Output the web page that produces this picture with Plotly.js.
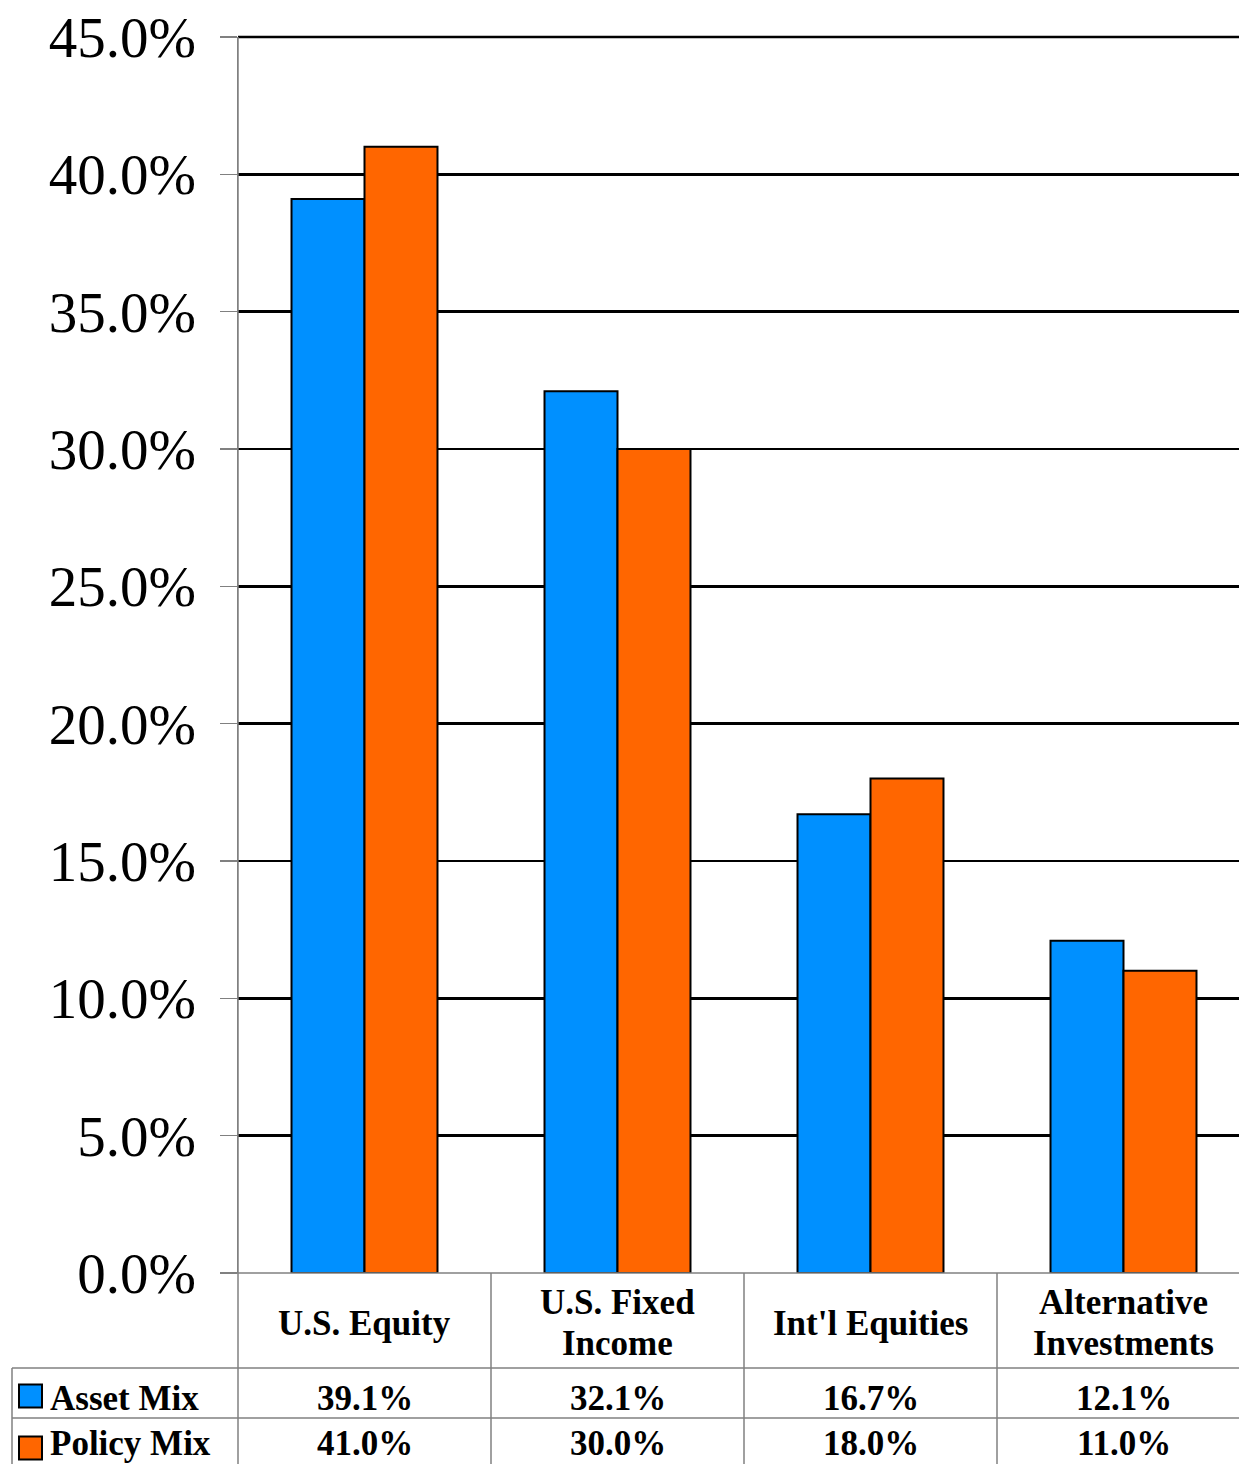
<!DOCTYPE html>
<html>
<head>
<meta charset="utf-8">
<script src="https://cdn.plot.ly/plotly-3.0.1.min.js"></script>
<style>html,body{margin:0;padding:0;background:#fff;overflow:hidden}</style>
</head>
<body>
<div id="chart"></div>
<script>
const categories = ["U.S. Equity", "U.S. Fixed<br>Income", "Int'l Equities", "Alternative<br>Investments"];
const seriesNames = ["Asset Mix", "Policy Mix"];
const assetMix = [39.1, 32.1, 16.7, 12.1];
const policyMix = [41.0, 30.0, 18.0, 11.0];
const seriesColors = ["#0090FF", "#FF6600"];
const yTickVals = [0, 5, 10, 15, 20, 25, 30, 35, 40, 45];
const yTickText = yTickVals.map(v => v.toFixed(1) + "%");

const W = 1239, H = 1464;
const L = 238, T = 37, PW = 1001, PH = 1236;
const catPx = 253;
const px2x = p => (p - L) / PW;
const py2y = p => (T + PH - p) / PH;
const FONT = "Liberation Serif, Times New Roman, serif";
const GRAY = "#808080";
const idx = categories.map((c, i) => i);

const traces = [assetMix, policyMix].map((vals, s) => ({
  type: "bar",
  x: idx,
  y: vals,
  name: seriesNames[s],
  marker: { color: seriesColors[s], line: { color: "#000", width: 2 } },
  hoverinfo: "skip",
  showlegend: false
}));

const shapes = [];
const annotations = [];
// top gridline at the range end
shapes.push({ type: "line", xref: "paper", yref: "paper", x0: 0, x1: 1, y0: 1, y1: 1, layer: "below", line: { color: "#000", width: 2.5 } });
// bottom axis line (gray) over 0 gridline
shapes.push({ type: "line", xref: "paper", yref: "paper", x0: px2x(221), x1: 1, y0: 0, y1: 0, line: { color: GRAY, width: 1.5 } });
// left axis line continued through table
shapes.push({ type: "line", xref: "paper", yref: "paper", x0: 0, x1: 0, y0: py2y(1464), y1: 1, line: { color: GRAY, width: 1.5 } });
// table horizontal lines
[1368, 1418].forEach(py => shapes.push({ type: "line", xref: "paper", yref: "paper", x0: px2x(12), x1: 1, y0: py2y(py), y1: py2y(py), line: { color: GRAY, width: 1.5 } }));
// vertical separators between categories
for (let i = 0; i < categories.length - 1; i++) {
  shapes.push({ type: "line", xref: "x", yref: "paper", x0: i + 0.5, x1: i + 0.5, y0: py2y(1464), y1: 0, line: { color: GRAY, width: 1.5 } });
}
// left edge of legend column
shapes.push({ type: "line", xref: "paper", yref: "paper", x0: px2x(12), x1: px2x(12), y0: py2y(1464), y1: py2y(1368), line: { color: GRAY, width: 1.5 } });

// category labels (each line placed separately for tight line spacing)
categories.forEach((c, i) => {
  const lines = c.split("<br>");
  const lh = 41;
  lines.forEach((ln, k) => annotations.push({
    xref: "x", yref: "paper", x: i, y: py2y(1323 + (k - (lines.length - 1) / 2) * lh), xanchor: "center", yanchor: "middle",
    text: "<b>" + ln + "</b>", showarrow: false, font: { family: FONT, size: 35, color: "#000" }
  }));
});

const rowY = [1398, 1443];
const keyY = [1396, 1448];
[assetMix, policyMix].forEach((vals, s) => {
  vals.forEach((v, i) => annotations.push({
    xref: "x", yref: "paper", x: i, y: py2y(rowY[s]), xanchor: "center", yanchor: "middle",
    text: "<b>" + v.toFixed(1) + "%</b>", showarrow: false, font: { family: FONT, size: 35, color: "#000" }
  }));
  // legend key
  const cy = keyY[s];
  shapes.push({ type: "rect", xref: "paper", yref: "paper", x0: px2x(19), x1: px2x(42), y0: py2y(cy + 11.5), y1: py2y(cy - 11.5), fillcolor: seriesColors[s], line: { color: "#000", width: 2 } });
  annotations.push({
    xref: "paper", yref: "paper", x: px2x(48), y: py2y(rowY[s]), xanchor: "left", yanchor: "middle",
    text: "<b>" + seriesNames[s] + "</b>", showarrow: false, font: { family: FONT, size: 35, color: "#000" }
  });
});

const layout = {
  width: W, height: H,
  margin: { l: L, r: W - L - PW, t: T, b: H - T - PH, pad: 0 },
  paper_bgcolor: "#fff", plot_bgcolor: "#fff",
  barmode: "group", bargap: 0.423, bargroupgap: 0,
  xaxis: {
    range: [-0.5, -0.5 + PW / catPx], showticklabels: false, showgrid: false, zeroline: false,
    showline: false, ticks: "", fixedrange: true
  },
  yaxis: {
    range: [0, 45], tickmode: "array", tickvals: yTickVals, ticktext: yTickText,
    showgrid: true, gridcolor: "#000", gridwidth: 2.5, zeroline: false,
    showline: true, linecolor: GRAY, linewidth: 1.5,
    ticks: "outside", ticklen: 17, tickcolor: GRAY, tickwidth: 1.5,
    ticklabelstandoff: 12,
    tickfont: { family: FONT, size: 57, color: "#000" }, fixedrange: true
  },
  shapes: shapes,
  annotations: annotations,
  showlegend: false
};

Plotly.newPlot("chart", traces, layout, { displayModeBar: false, staticPlot: true });
</script>
</body>
</html>
